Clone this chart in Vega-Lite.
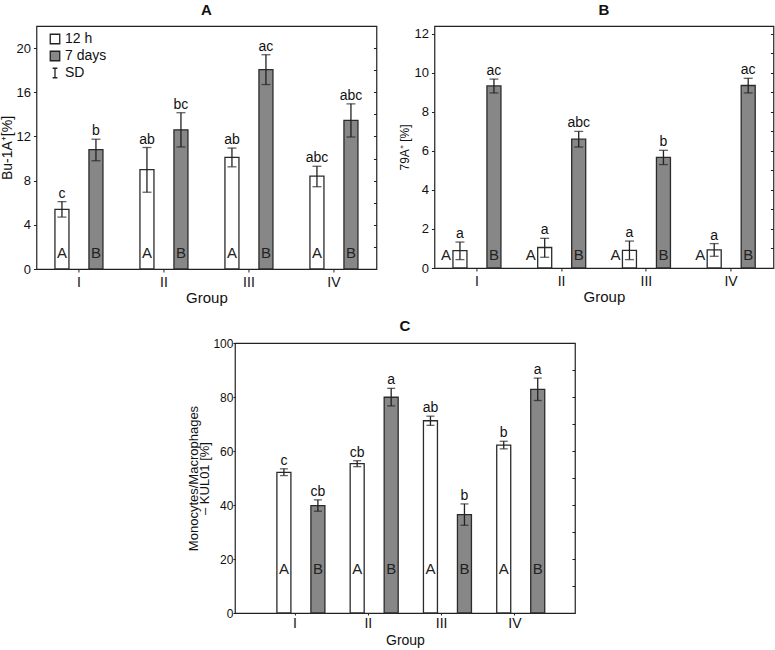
{
  "$schema": "https://vega.github.io/schema/vega-lite/v6.json",
  "padding": {"left": 0, "top": 2, "right": 0, "bottom": 2},
  "config": {
    "font": "Liberation Sans",
    "view": {"stroke": "#222", "strokeWidth": 1.2},
    "axis": {"labelFont": "Liberation Sans", "titleFont": "Liberation Sans", "labelColor": "#111", "titleColor": "#111", "domain": false, "grid": false, "tickColor": "#222", "labelFontSize": 13, "titleFontSize": 14, "titleFontWeight": "normal"},
    "legend": {"orient": "none", "legendX": 12, "legendY": 6, "title": null, "labelFontSize": 14, "labelFont": "Liberation Sans", "labelColor": "#111", "symbolSize": 90, "symbolStrokeColor": "#222", "symbolStrokeWidth": 1, "symbolOpacity": 1, "rowPadding": 1, "labelOffset": 3, "padding": 0},
    "title": {"fontSize": 15, "fontWeight": "bold", "font": "Liberation Sans", "color": "#111", "anchor": "middle", "offset": 8},
    "bar": {"stroke": "#2b2b2b", "strokeWidth": 1.3}
  },
  "spacing": 12,
  "center": true,
  "vconcat": [
    {
      "spacing": 19,
      "hconcat": [
        {
          "title": "A",
          "width": 340,
          "height": 243,
          "data": {"values": [
            {"group": "I", "time": "12 h", "value": 5.4, "lo": 4.7, "hi": 6.1, "sig": "c", "inner": "A"},
            {"group": "I", "time": "7 days", "value": 10.8, "lo": 9.8, "hi": 11.75, "sig": "b", "inner": "B"},
            {"group": "II", "time": "12 h", "value": 9.0, "lo": 6.95, "hi": 11.0, "sig": "ab", "inner": "A"},
            {"group": "II", "time": "7 days", "value": 12.6, "lo": 11.05, "hi": 14.15, "sig": "bc", "inner": "B"},
            {"group": "III", "time": "12 h", "value": 10.1, "lo": 9.25, "hi": 10.95, "sig": "ab", "inner": "A"},
            {"group": "III", "time": "7 days", "value": 18.05, "lo": 16.7, "hi": 19.4, "sig": "ac", "inner": "B"},
            {"group": "IV", "time": "12 h", "value": 8.4, "lo": 7.45, "hi": 9.3, "sig": "abc", "inner": "A"},
            {"group": "IV", "time": "7 days", "value": 13.45, "lo": 11.95, "hi": 14.95, "sig": "abc", "inner": "B"}
          ]},
          "encoding": {
            "x": {"field": "group", "type": "nominal", "sort": ["I", "II", "III", "IV"], "scale": {"paddingInner": 0, "paddingOuter": 0}, "axis": {"title": "Group", "titleFontSize": 15, "labelAngle": 0, "labelFontSize": 14, "tickSize": 3, "labelPadding": 3, "titlePadding": 1}},
            "xOffset": {"field": "time", "type": "nominal", "scale": {"domain": ["12 h", "7 days"], "paddingInner": 0.588, "paddingOuter": 0.544}}
          },
          "layer": [
            {"mark": {"type": "bar"}, "encoding": {
              "y": {"field": "value", "type": "quantitative", "scale": {"domain": [0, 22], "nice": false}, "axis": {"orient": "left", "title": "Bu-1A⁺[%]", "values": [0, 4, 8, 12, 16, 20], "tickSize": 3, "labelPadding": 3, "titlePadding": 1}},
              "fill": {"field": "time", "type": "nominal", "scale": {"domain": ["12 h", "7 days", "SD"], "range": ["#ffffff", "#878787", "#ffffff"]}}
            }},
            {"mark": {"type": "point", "filled": true, "stroke": "#222", "strokeWidth": 1, "opacity": 0}, "encoding": {
              "y": {"field": "value", "type": "quantitative", "axis": null},
              "fill": {"field": "time", "type": "nominal"},
              "shape": {"field": "time", "type": "nominal", "scale": {"domain": ["12 h", "7 days", "SD"], "range": ["square", "square", "M-0.5,-1H0.5M0,-1V1M-0.5,1H0.5"]}}
            }},
            {"mark": {"type": "rule", "color": "#222", "strokeWidth": 1.3}, "encoding": {
              "y": {"field": "lo", "type": "quantitative", "axis": {"orient": "right", "labels": false, "title": null, "values": [2, 4, 6, 8, 10, 12, 14, 16, 18, 20], "tickSize": -3}},
              "y2": {"field": "hi"}
            }},
            {"mark": {"type": "tick", "color": "#222", "thickness": 1.3, "size": 9}, "encoding": {"y": {"field": "lo", "type": "quantitative", "axis": null}}},
            {"mark": {"type": "tick", "color": "#222", "thickness": 1.3, "size": 9}, "encoding": {"y": {"field": "hi", "type": "quantitative", "axis": null}}},
            {"mark": {"type": "text", "fontSize": 14, "baseline": "alphabetic", "dy": -4, "color": "#111"}, "encoding": {"y": {"field": "hi", "type": "quantitative", "axis": null}, "text": {"field": "sig"}}},
            {"mark": {"type": "text", "fontSize": 15, "baseline": "alphabetic", "dy": -11, "color": "#222"}, "encoding": {"y": {"datum": 0, "type": "quantitative", "axis": null}, "text": {"field": "inner"}}}
          ]
        },
        {
          "title": "B",
          "width": 339,
          "height": 242,
          "data": {"values": [
            {"group": "I", "time": "12 h", "value": 0.89, "lo": 0.43, "hi": 1.33, "sig": "a", "inner": "A"},
            {"group": "I", "time": "7 days", "value": 9.33, "lo": 8.97, "hi": 9.68, "sig": "ac", "inner": "B"},
            {"group": "II", "time": "12 h", "value": 1.05, "lo": 0.55, "hi": 1.52, "sig": "a", "inner": "A"},
            {"group": "II", "time": "7 days", "value": 6.6, "lo": 6.2, "hi": 7.0, "sig": "abc", "inner": "B"},
            {"group": "III", "time": "12 h", "value": 0.9, "lo": 0.43, "hi": 1.38, "sig": "a", "inner": "A"},
            {"group": "III", "time": "7 days", "value": 5.67, "lo": 5.3, "hi": 6.03, "sig": "b", "inner": "B"},
            {"group": "IV", "time": "12 h", "value": 0.93, "lo": 0.6, "hi": 1.25, "sig": "a", "inner": "A"},
            {"group": "IV", "time": "7 days", "value": 9.35, "lo": 8.97, "hi": 9.72, "sig": "ac", "inner": "B"}
          ]},
          "encoding": {
            "x": {"field": "group", "type": "nominal", "sort": ["I", "II", "III", "IV"], "scale": {"paddingInner": 0, "paddingOuter": 0}, "axis": {"title": "Group", "titleFontSize": 15, "labelAngle": 0, "labelFontSize": 14, "tickSize": 3, "labelPadding": 3, "titlePadding": 1}},
            "xOffset": {"field": "time", "type": "nominal", "scale": {"domain": ["12 h", "7 days"], "paddingInner": 0.588, "paddingOuter": 0.544}}
          },
          "layer": [
            {"mark": {"type": "bar"}, "encoding": {
              "y": {"field": "value", "type": "quantitative", "scale": {"domain": [0, 12.4], "nice": false}, "axis": {"orient": "left", "title": "79A⁺ [%]", "titleFontSize": 12, "values": [0, 2, 4, 6, 8, 10, 12], "tickSize": 3, "labelPadding": 3, "titlePadding": 2}},
              "fill": {"field": "time", "type": "nominal", "scale": {"domain": ["12 h", "7 days", "SD"], "range": ["#ffffff", "#878787", "#ffffff"]}}
            }},
            {"mark": {"type": "point", "filled": true, "stroke": "#222", "strokeWidth": 1, "opacity": 0}, "encoding": {
              "y": {"field": "value", "type": "quantitative", "axis": null},
              "fill": {"field": "time", "type": "nominal"},
              "shape": {"field": "time", "type": "nominal", "scale": {"domain": ["12 h", "7 days", "SD"], "range": ["square", "square", "M-0.5,-1H0.5M0,-1V1M-0.5,1H0.5"]}}
            }},
            {"mark": {"type": "rule", "color": "#222", "strokeWidth": 1.3}, "encoding": {
              "y": {"field": "lo", "type": "quantitative", "axis": {"orient": "right", "labels": false, "title": null, "values": [1, 2, 3, 4, 5, 6, 7, 8, 9, 10, 11, 12], "tickSize": -3}},
              "y2": {"field": "hi"}
            }},
            {"mark": {"type": "tick", "color": "#222", "thickness": 1.3, "size": 9}, "encoding": {"y": {"field": "lo", "type": "quantitative", "axis": null}}},
            {"mark": {"type": "tick", "color": "#222", "thickness": 1.3, "size": 9}, "encoding": {"y": {"field": "hi", "type": "quantitative", "axis": null}}},
            {"mark": {"type": "text", "fontSize": 14, "baseline": "alphabetic", "dy": -4, "color": "#111"}, "encoding": {"y": {"field": "hi", "type": "quantitative", "axis": null}, "text": {"field": "sig"}}},
            {"transform": [{"filter": "datum.time == '12 h'"}], "mark": {"type": "text", "fontSize": 15, "baseline": "alphabetic", "dy": -8, "dx": -14, "color": "#222"}, "encoding": {"y": {"datum": 0, "type": "quantitative", "axis": null}, "text": {"field": "inner"}}},
            {"transform": [{"filter": "datum.time == '7 days'"}], "mark": {"type": "text", "fontSize": 15, "baseline": "alphabetic", "dy": -8, "color": "#222"}, "encoding": {"y": {"datum": 0, "type": "quantitative", "axis": null}, "text": {"field": "inner"}}}
          ]
        }
      ]
    },
    {
      "title": {"text": "C", "offset": 3},
      "width": 340,
      "height": 270,
      "data": {"values": [
        {"group": "I", "time": "12 h", "value": 52.1, "lo": 50.9, "hi": 53.4, "sig": "c", "inner": "A"},
        {"group": "I", "time": "7 days", "value": 39.8, "lo": 37.7, "hi": 41.9, "sig": "cb", "inner": "B"},
        {"group": "II", "time": "12 h", "value": 55.3, "lo": 54.2, "hi": 56.4, "sig": "cb", "inner": "A"},
        {"group": "II", "time": "7 days", "value": 79.9, "lo": 76.7, "hi": 83.2, "sig": "a", "inner": "B"},
        {"group": "III", "time": "12 h", "value": 71.2, "lo": 69.5, "hi": 72.9, "sig": "ab", "inner": "A"},
        {"group": "III", "time": "7 days", "value": 36.4, "lo": 32.5, "hi": 40.4, "sig": "b", "inner": "B"},
        {"group": "IV", "time": "12 h", "value": 62.2, "lo": 60.8, "hi": 63.6, "sig": "b", "inner": "A"},
        {"group": "IV", "time": "7 days", "value": 82.8, "lo": 78.7, "hi": 87.0, "sig": "a", "inner": "B"}
      ]},
      "encoding": {
        "x": {"field": "group", "type": "nominal", "sort": ["I", "II", "III", "IV"], "scale": {"paddingInner": 0, "paddingOuter": 0.32}, "axis": {"title": "Group", "titleFontSize": 14, "labelAngle": 0, "labelFontSize": 14, "tickSize": 2, "labelPadding": 1, "titlePadding": 3}},
        "xOffset": {"field": "time", "type": "nominal", "scale": {"domain": ["12 h", "7 days"], "paddingInner": 0.6, "paddingOuter": 0.52}}
      },
      "layer": [
        {"mark": {"type": "bar"}, "encoding": {
          "y": {"field": "value", "type": "quantitative", "scale": {"domain": [0, 100], "nice": false}, "axis": {"orient": "left", "title": ["Monocytes/Macrophages", "– KUL01 [%]"], "titleFontSize": 13, "titleLineHeight": 11, "labelFontSize": 12, "values": [0, 20, 40, 60, 80, 100], "tickSize": 2, "labelPadding": 0, "titlePadding": 1}},
          "fill": {"field": "time", "type": "nominal", "scale": {"domain": ["12 h", "7 days", "SD"], "range": ["#ffffff", "#878787", "#ffffff"]}}
        }},
        {"mark": {"type": "point", "filled": true, "stroke": "#222", "strokeWidth": 1, "opacity": 0}, "encoding": {
          "y": {"field": "value", "type": "quantitative", "axis": null},
          "fill": {"field": "time", "type": "nominal"},
          "shape": {"field": "time", "type": "nominal", "scale": {"domain": ["12 h", "7 days", "SD"], "range": ["square", "square", "M-0.5,-1H0.5M0,-1V1M-0.5,1H0.5"]}}
        }},
        {"mark": {"type": "rule", "color": "#222", "strokeWidth": 1.3}, "encoding": {
          "y": {"field": "lo", "type": "quantitative", "axis": {"orient": "right", "labels": false, "title": null, "values": [10, 20, 30, 40, 50, 60, 70, 80, 90], "tickSize": -3}},
          "y2": {"field": "hi"}
        }},
        {"mark": {"type": "tick", "color": "#222", "thickness": 1.3, "size": 8}, "encoding": {"y": {"field": "lo", "type": "quantitative", "axis": null}}},
        {"mark": {"type": "tick", "color": "#222", "thickness": 1.3, "size": 8}, "encoding": {"y": {"field": "hi", "type": "quantitative", "axis": null}}},
        {"mark": {"type": "text", "fontSize": 14, "baseline": "alphabetic", "dy": -4, "color": "#111"}, "encoding": {"y": {"field": "hi", "type": "quantitative", "axis": null}, "text": {"field": "sig"}}},
        {"mark": {"type": "text", "fontSize": 15, "baseline": "alphabetic", "dy": -39, "color": "#222"}, "encoding": {"y": {"datum": 0, "type": "quantitative", "axis": null}, "text": {"field": "inner"}}}
      ]
    }
  ]
}
